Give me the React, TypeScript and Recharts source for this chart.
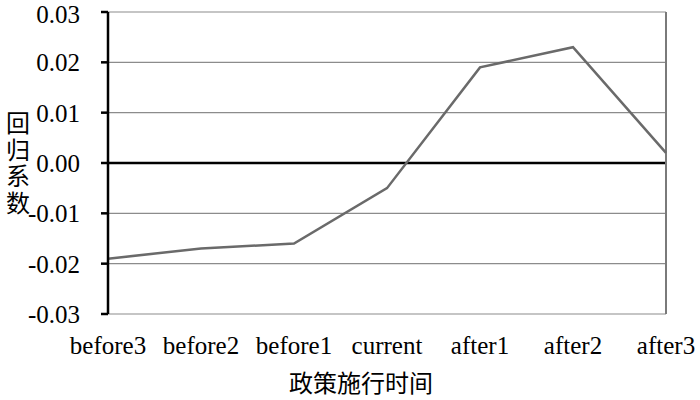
import { LineChart, Line, XAxis, YAxis, CartesianGrid, ReferenceLine, Label } from "recharts";

const periods = ["before3", "before2", "before1", "current", "after1", "after2", "after3"];
const coefficients = [-0.019, -0.017, -0.016, -0.005, 0.019, 0.023, 0.002];
const yTicks = [-0.03, -0.02, -0.01, 0, 0.01, 0.02, 0.03];
const xTitle = "政策施行时间";
const yTitle = "回归系数";

const data = periods.map((p, i) => ({ period: p, value: coefficients[i] }));

const serif = '"Liberation Serif", "Times New Roman", serif';
const cjk = '"Noto Sans CJK SC", "Noto Sans", sans-serif';

// vertical y title written top-to-bottom
function YTitle() {
  return (
    <text
      x={18}
      y={111}
      textAnchor="start"
      fontSize={24}
      fontFamily={cjk}
      fill="#000"
      style={{ writingMode: "vertical-rl", letterSpacing: 2.5 }}
    >
      {yTitle}
    </text>
  );
}

export default function App() {
  return (
    <div style={{ position: "absolute", left: 0, top: 0, background: "#fff" }}>
      <LineChart
        width={700}
        height={400}
        data={data}
        margin={{ top: 12, right: 34, left: 0, bottom: 0 }}
      >
        <CartesianGrid vertical={false} stroke="#8c8c8c" strokeWidth={1.2} />
        <XAxis
          dataKey="period"
          axisLine={false}
          tickLine={false}
          tickSize={0}
          tickMargin={22}
          height={86}
          interval={0}
          tick={{ fontSize: 25, fontFamily: serif, fill: "#000" }}
        >
          <Label
            content={({ viewBox }: any) => (
              <text
                x={viewBox.x + viewBox.width / 2 - 26}
                y={392}
                textAnchor="middle"
                fontSize={24}
                fontFamily={cjk}
                fill="#000"
              >
                {xTitle}
              </text>
            )}
          />
        </XAxis>
        <YAxis
          domain={[-0.03, 0.03]}
          ticks={yTicks}
          width={108}
          axisLine={{ stroke: "#000", strokeWidth: 2.5 }}
          tickLine={{ stroke: "#000", strokeWidth: 2.5 }}
          tickSize={7}
          tickMargin={21}
          tickFormatter={(v: number) => v.toFixed(2)}
          tick={{ fontSize: 25, fontFamily: serif, fill: "#000" }}
        >
          <Label content={() => <YTitle />} />
        </YAxis>
        <ReferenceLine y={0} stroke="#000" strokeWidth={2.5} />
        <ReferenceLine x="after3" stroke="#7a7a7a" strokeWidth={2} />
        <Line
          dataKey="value"
          stroke="#6a6a6a"
          strokeWidth={2.5}
          dot={false}
          isAnimationActive={false}
        />
      </LineChart>
    </div>
  );
}
